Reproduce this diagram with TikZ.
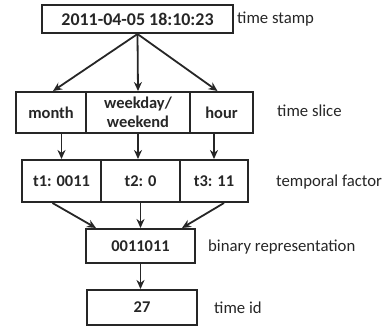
\documentclass[tikz,border=0pt]{standalone}
\usepackage{fontspec}
\setmainfont{Carlito}
\usetikzlibrary{arrows.meta,calc}
\begin{document}
\begin{tikzpicture}[x=1bp,y=-1bp,
  box/.style={draw=black!85,line width=2bp,inner sep=0pt,font=\fontsize{16.5}{19}\selectfont\bfseries,text=black!85,align=center},
  lab/.style={anchor=west,inner sep=0pt,font=\fontsize{16.8}{19}\selectfont,text=black!85},
  arr/.style={draw=black!85,line width=1.8bp,-{Stealth[length=9bp,width=8bp]}}]
\useasboundingbox (0,0) rectangle (383,326);
\node[box,minimum width=191bp,minimum height=28bp,font=\fontsize{18}{20}\selectfont\bfseries] (ts) at (137.5,19) {2011-04-05 18:10:23};
\node[box,minimum width=70bp,minimum height=41bp] (month) at (51,112.5) {month};
\node[box,minimum width=104bp,minimum height=41bp] (week) at (138,112.5) {weekday/\\weekend};
\node[box,minimum width=63bp,minimum height=41bp] (hour) at (221.5,112.5) {hour};
\node[box,minimum width=79bp,minimum height=42bp] (t1) at (61.5,181) {t1: 0011};
\node[box,minimum width=79bp,minimum height=42bp] (t2) at (140.5,181) {t2: 0};
\node[box,minimum width=68bp,minimum height=42bp] (t3) at (214,181) {t3: 11};
\node[box,minimum width=109bp,minimum height=34bp] (bin) at (140.5,246) {0011011};
\node[box,minimum width=110bp,minimum height=35bp] (tid) at (142,307.5) {27};
\node[lab] (l1) at (237,19) {time stamp};
\node[lab] (l2) at (277,111) {time slice};
\node[lab] (l3) at (276,182) {temporal factor};
\node[lab] (l4) at (208,247) {binary representation};
\node[lab] (l5) at (214,308) {time id};
\draw[arr] (ts.south) -- ($(month.north)+(2,0)$);
\draw[arr] (ts.south) -- (week.north);
\draw[arr] (ts.south) -- ($(hour.north)+(-4,0)$);
\draw[arr] (month.south -| t1.north) -- (t1.north);
\draw[arr] (week.south) -- (week.south |- t2.north);
\draw[arr] (hour.south -| t3.north) -- (t3.north);
\draw[arr] ($(t1.south)+(-9,0)$) -- ($(bin.north west)+(11,0)$);
\draw[arr] (t2.south) -- (bin.north);
\draw[arr] ($(t3.south)+(10,0)$) -- ($(bin.north east)+(-14,0)$);
\draw[arr] (bin.south) -- (bin.south |- tid.north);
\end{tikzpicture}
\end{document}
